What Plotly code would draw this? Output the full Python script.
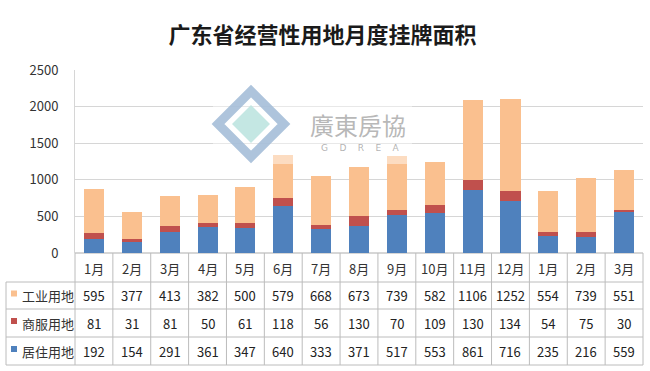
import plotly.graph_objects as go

title = "广东省经营性用地月度挂牌面积"
months = ["1月", "2月", "3月", "4月", "5月", "6月", "7月", "8月", "9月", "10月", "11月", "12月", "1月", "2月", "3月"]
industrial = [595, 377, 413, 382, 500, 579, 668, 673, 739, 582, 1106, 1252, 554, 739, 551]
commercial = [81, 31, 81, 50, 61, 118, 56, 130, 70, 109, 130, 134, 54, 75, 30]
residential = [192, 154, 291, 361, 347, 640, 333, 371, 517, 553, 861, 716, 235, 216, 559]
series_names = ["居住用地", "商服用地", "工业用地"]
series_colors = ["#4F81BD", "#C0504D", "#FAC08F"]
y_ticks = [0, 500, 1000, 1500, 2000, 2500]

W, H = 650, 371
ML, MR, MT, MB = 75, 7, 70, 118
PW = W - ML - MR
PH = H - MT - MB

def px2x(px):
    return (px - ML) / PW

def py2y(py):
    return (H - MB - py) / PH

FONT = "Noto Sans CJK SC"
idx = list(range(len(months)))

fig = go.Figure()
for name, vals, col in zip(series_names, [residential, commercial, industrial], series_colors):
    fig.add_trace(go.Bar(x=idx, y=vals, name=name, marker=dict(color=col, line=dict(width=0)),
                         showlegend=False))

grid = "#d6d6d6"
tline = "#bcbcbc"
shapes = []
annotations = []

row_top, row_lines = 282, [309, 337, 365]
for i in range(len(months) + 1):
    xv = px2x(ML + (i) * PW / len(months))
    shapes.append(dict(type="line", xref="paper", yref="paper", x0=xv, x1=xv,
                       y0=py2y(253), y1=py2y(365), line=dict(color=tline, width=1),
                       layer="above"))
shapes.append(dict(type="line", xref="paper", yref="paper", x0=px2x(6), x1=px2x(6),
                   y0=py2y(row_top), y1=py2y(365), line=dict(color=tline, width=1), layer="above"))
for py in [row_top] + row_lines:
    shapes.append(dict(type="line", xref="paper", yref="paper", x0=px2x(6), x1=1,
                       y0=py2y(py), y1=py2y(py), line=dict(color=tline, width=1), layer="above"))

for i, m in enumerate(months):
    annotations.append(dict(x=i, y=py2y(268), xref="x", yref="paper", text=m, showarrow=False,
                            font=dict(family=FONT, size=13, color="#333333"),
                            xanchor="center", yanchor="middle"))

rows = [("工业用地", industrial, series_colors[2]),
        ("商服用地", commercial, series_colors[1]),
        ("居住用地", residential, series_colors[0])]
bounds = [row_top] + row_lines
for r, (label, vals, col) in enumerate(rows):
    cy = (bounds[r] + bounds[r + 1]) / 2
    shapes.append(dict(type="rect", xref="paper", yref="paper", x0=px2x(11), x1=px2x(17),
                       y0=py2y(cy + 1), y1=py2y(cy - 5), fillcolor=col, line=dict(width=0)))
    annotations.append(dict(x=px2x(20), y=py2y(cy), xref="paper", yref="paper", text=label,
                            showarrow=False, xanchor="left", yanchor="middle",
                            font=dict(family=FONT, size=13, color="#333333")))
    for i, v in enumerate(vals):
        annotations.append(dict(x=i, y=py2y(cy), xref="x", yref="paper", text=str(v),
                                showarrow=False, xanchor="center", yanchor="middle",
                                font=dict(family=FONT, size=13, color="#222222")))

# watermark
shapes.append(dict(type="rect", xref="paper", yref="paper", x0=px2x(213), x1=px2x(412),
                   y0=py2y(164), y1=py2y(86), fillcolor="rgba(255,255,255,0.45)",
                   line=dict(width=0), layer="above"))
cx, cyl = 251, 124
shapes.append(dict(type="path", xref="paper", yref="paper", layer="above",
                   path="M {} {} L {} {} L {} {} L {} {} Z".format(
                       px2x(cx - 33), py2y(cyl), px2x(cx), py2y(cyl - 33),
                       px2x(cx + 33), py2y(cyl), px2x(cx), py2y(cyl + 33)),
                   line=dict(color="rgba(160,186,214,0.85)", width=9)))
shapes.append(dict(type="path", xref="paper", yref="paper", layer="above",
                   path="M {} {} L {} {} L {} {} L {} {} Z".format(
                       px2x(cx - 19), py2y(cyl), px2x(cx), py2y(cyl - 19),
                       px2x(cx + 19), py2y(cyl), px2x(cx), py2y(cyl + 19)),
                   fillcolor="rgba(190,228,224,0.9)", line=dict(width=0)))
annotations.append(dict(x=px2x(358), y=py2y(124), xref="paper", yref="paper", text="廣東房協",
                        showarrow=False, xanchor="center", yanchor="middle",
                        font=dict(family="Noto Sans CJK TC", size=24, color="rgba(165,165,165,0.8)")))
annotations.append(dict(x=px2x(360), y=py2y(148), xref="paper", yref="paper",
                        text="G&nbsp;&nbsp;&nbsp;&nbsp;D&nbsp;&nbsp;&nbsp;&nbsp;R&nbsp;&nbsp;&nbsp;&nbsp;E&nbsp;&nbsp;&nbsp;&nbsp;A",
                        showarrow=False, xanchor="center", yanchor="middle",
                        font=dict(family="DejaVu Sans", size=9, color="rgba(160,160,160,0.8)")))

fig.update_layout(
    width=W, height=H,
    margin=dict(l=ML, r=MR, t=MT, b=MB),
    paper_bgcolor="white", plot_bgcolor="white",
    barmode="stack", bargap=0.47,
    title=dict(text="<b>" + title + "</b>", x=0.496, xanchor="center", y=1 - 35 / H,
               yanchor="middle", yref="container",
               font=dict(family=FONT, size=22, color="#1a1a1a")),
    xaxis=dict(range=[-0.5, len(months) - 0.5], showticklabels=False, showgrid=False,
               zeroline=False, showline=False, ticks=""),
    yaxis=dict(range=[0, 2500], tickvals=y_ticks, showgrid=True, gridcolor=grid, gridwidth=1,
               zeroline=True, zerolinecolor=grid, showline=True, linecolor=grid,
               ticks="", ticklabelstandoff=13,
               tickfont=dict(family=FONT, size=13, color="#333333")),
    shapes=shapes, annotations=annotations,
)

fig.write_html("out.html", config={"displayModeBar": False},
               post_script="document.body.style.margin='0';")
